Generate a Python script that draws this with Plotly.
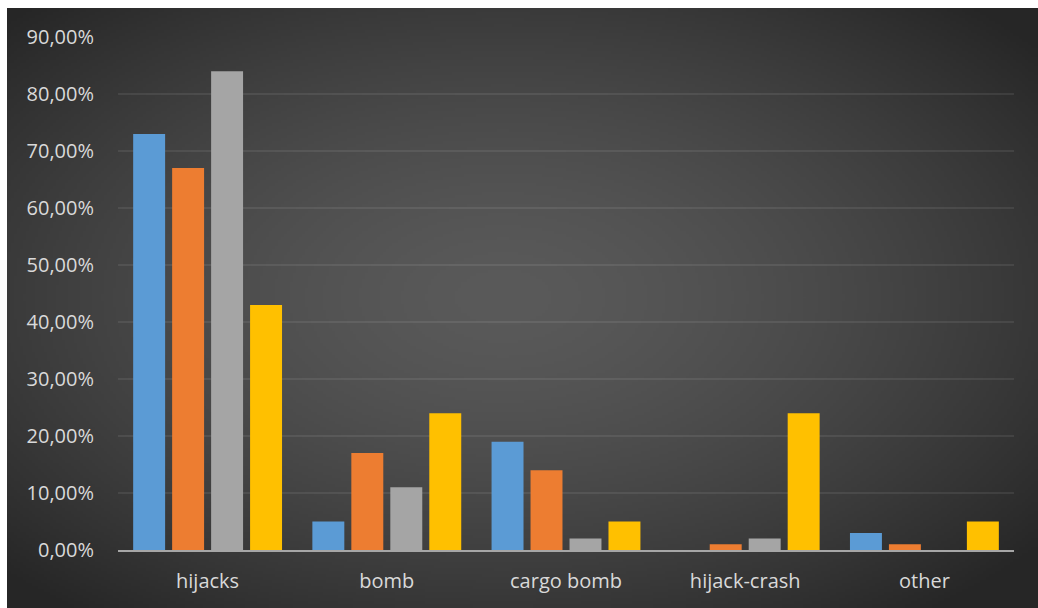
import zlib, struct, base64
import numpy as np
import plotly.graph_objects as go

categories = ["hijacks", "bomb", "cargo bomb", "hijack-crash", "other"]
series_1 = [73, 5, 19, 0, 3]
series_2 = [67, 17, 14, 1, 1]
series_3 = [84, 11, 2, 2, 0]
series_4 = [43, 24, 5, 24, 5]
tick_values = [0, 10, 20, 30, 40, 50, 60, 70, 80, 90]
tick_labels = ["0,00%", "10,00%", "20,00%", "30,00%", "40,00%",
               "50,00%", "60,00%", "70,00%", "80,00%", "90,00%"]

colors = ["#5b9bd5", "#ed7d31", "#a5a5a5", "#ffc000"]

# ---- radial gradient background image (styling only) ----
W, H = 344, 200
yy, xx = np.mgrid[0:H, 0:W].astype(float)
cx, cy = W * 0.48, H * 0.48
r = np.sqrt(((xx - cx) / (W / 2)) ** 2 + ((yy - cy) / (H / 2)) ** 2) / np.sqrt(2)
t = np.clip(r / 0.95, 0, 1) ** 1.5
c0, c1 = 90.0, 38.0
v = (c0 + (c1 - c0) * t).astype(np.uint8)
img = np.stack([v, v, v], axis=-1)

def to_png(a):
    h, w, _ = a.shape
    raw = b"".join(b"\x00" + a[i].tobytes() for i in range(h))
    def chunk(tag, data):
        c = struct.pack(">I", len(data)) + tag + data
        return c + struct.pack(">I", zlib.crc32(tag + data) & 0xffffffff)
    return (b"\x89PNG\r\n\x1a\n" + chunk(b"IHDR", struct.pack(">IIBBBBB", w, h, 8, 2, 0, 0, 0))
            + chunk(b"IDAT", zlib.compress(raw, 9)) + chunk(b"IEND", b""))

bg_src = "data:image/png;base64," + base64.b64encode(to_png(img)).decode()

FIG_W, FIG_H = 1038, 608
ML, MR, MT, MB = 118, 24, 37, 58
PW, PH = FIG_W - ML - MR, FIG_H - MT - MB

fig = go.Figure()
for vals, col in zip([series_1, series_2, series_3, series_4], colors):
    fig.add_trace(go.Bar(x=categories, y=vals, marker=dict(color=col, line=dict(width=0)),
                         showlegend=False, hoverinfo="x+y"))

x0 = (7 - ML) / PW
x1 = (FIG_W - ML) / PW
y_top = (FIG_H - MB - 8) / PH
y_bot = -MB / PH

fig.update_layout(
    width=FIG_W, height=FIG_H,
    margin=dict(l=ML, r=MR, t=MT, b=MB, pad=0),
    paper_bgcolor="#ffffff",
    plot_bgcolor="rgba(0,0,0,0)",
    barmode="group", bargap=0.13, bargroupgap=0.18,
    font=dict(family="Open Sans, Noto Sans, sans-serif", size=20, color="#d9d9d9"),
    images=[dict(source=bg_src, xref="paper", yref="paper", x=x0, y=y_top,
                 sizex=x1 - x0, sizey=y_top - y_bot, sizing="stretch",
                 xanchor="left", yanchor="top", layer="below")],
    xaxis=dict(showline=True, linecolor="#a6a6a6", linewidth=2, showgrid=False,
               ticks="outside", ticklen=12, tickcolor="rgba(0,0,0,0)",
               tickfont=dict(size=20, color="#d9d9d9")),
    yaxis=dict(range=[0, 90], tickvals=tick_values, ticktext=tick_labels,
               showgrid=True, gridcolor="rgba(255,255,255,0.08)", gridwidth=2,
               zeroline=False, showline=False,
               ticks="outside", ticklen=19, tickcolor="rgba(0,0,0,0)",
               tickfont=dict(size=20, color="#d9d9d9")),
)

fig.write_html("out.html")
